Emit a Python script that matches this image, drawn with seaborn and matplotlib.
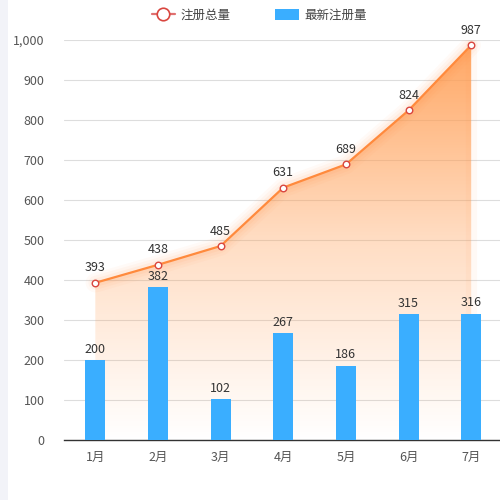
import matplotlib
matplotlib.use("Agg")
import matplotlib.pyplot as plt
import seaborn as sns
import numpy as np
import pandas as pd
from matplotlib.ticker import FuncFormatter
from matplotlib.lines import Line2D
from matplotlib.patches import Patch, Rectangle
from matplotlib.colors import LinearSegmentedColormap

# data
months = ["1月", "2月", "3月", "4月", "5月", "6月", "7月"]
total_users = [393, 438, 485, 631, 689, 824, 987]
new_users = [200, 382, 102, 267, 186, 315, 316]

sns.set_style("white")
plt.rcParams["font.family"] = ["Noto Sans CJK SC", "DejaVu Sans"]

df = pd.DataFrame({"month": months, "total": total_users, "new": new_users})

fig = plt.figure(figsize=(5, 5), dpi=100)
fig.patches.append(Rectangle((0, 0), 0.016, 1, transform=fig.transFigure,
                             facecolor="#f2f3f8", edgecolor="none", zorder=0))
ax = fig.add_axes([0.128, 0.12, 0.877, 0.8])

# gradient area under the total line
xs = np.arange(len(months))
area = ax.fill_between(xs, total_users, 0, facecolor="none", edgecolor="none")
cmap = LinearSegmentedColormap.from_list(
    "fade", [(1, 0.62, 0.33, 0.0), (1, 0.62, 0.33, 0.35), (1, 0.62, 0.33, 0.92)],
)
grad = np.linspace(0, 1, 256).reshape(-1, 1)
img = ax.imshow(grad, extent=[-0.5, 6.5, 0, 1000], origin="lower", aspect="auto",
                cmap=cmap, zorder=1)
img.set_clip_path(area.get_paths()[0], transform=ax.transData)

# soft glow under the line
for lw, a in [(14, 0.04), (10, 0.05), (6, 0.07)]:
    ax.plot(xs, total_users, color="#ff8a3d", lw=lw, alpha=a, zorder=2,
            solid_capstyle="round")
ax.plot([6, 6], [0, total_users[-1]], color="#ff8a3d", lw=8, alpha=0.05, zorder=2)

sns.barplot(data=df, x="month", y="new", color="#3aaeff", width=0.32,
            saturation=1, linewidth=0, ax=ax, zorder=3)
sns.lineplot(x=xs, y=total_users, color="#ff8a3d", lw=1.6, ax=ax, zorder=4)
ax.scatter(xs, total_users, s=22, facecolor="white", edgecolor="#d9463f",
           linewidth=1.0, zorder=5)

for x, v in zip(xs, total_users):
    ax.annotate(str(v), (x, v), xytext=(0, 6), textcoords="offset points",
                ha="center", va="bottom", fontsize=9, color="#333333", zorder=6)
for x, v in zip(xs, new_users):
    ax.annotate(str(v), (x, v), xytext=(0, 3), textcoords="offset points",
                ha="center", va="bottom", fontsize=9, color="#333333", zorder=6)

ax.set_xlim(-0.5, 6.5)
ax.set_ylim(0, 1000)
ax.set_yticks(range(0, 1001, 100))
ax.yaxis.set_major_formatter(FuncFormatter(lambda v, p: f"{int(v):,}"))
ax.grid(axis="y", color="#dddddd", lw=0.8, zorder=0)
ax.set_axisbelow(True)
ax.set_xlabel("")
ax.set_ylabel("")
for s in ["top", "right", "left"]:
    ax.spines[s].set_visible(False)
ax.spines["bottom"].set_color("#333333")
ax.spines["bottom"].set_linewidth(1.0)
ax.tick_params(axis="both", length=0, labelsize=9, colors="#555555", pad=8)
ax.tick_params(axis="y", pad=14)

handles = [
    Line2D([0], [0], color="#e07070", lw=1.6, marker="o", markersize=9,
           markerfacecolor="white", markeredgecolor="#d9463f", markeredgewidth=1.2),
    Patch(facecolor="#3aaeff", edgecolor="none"),
]
fig.legend(handles, ["注册总量", "最新注册量"], loc="upper center",
           bbox_to_anchor=(0.518, 1.005), ncol=2, frameon=False, fontsize=9,
           handlelength=1.9, handleheight=1.0, columnspacing=3.6,
           labelcolor="#444444", handletextpad=0.4)

fig.savefig("out.png", dpi=100)
